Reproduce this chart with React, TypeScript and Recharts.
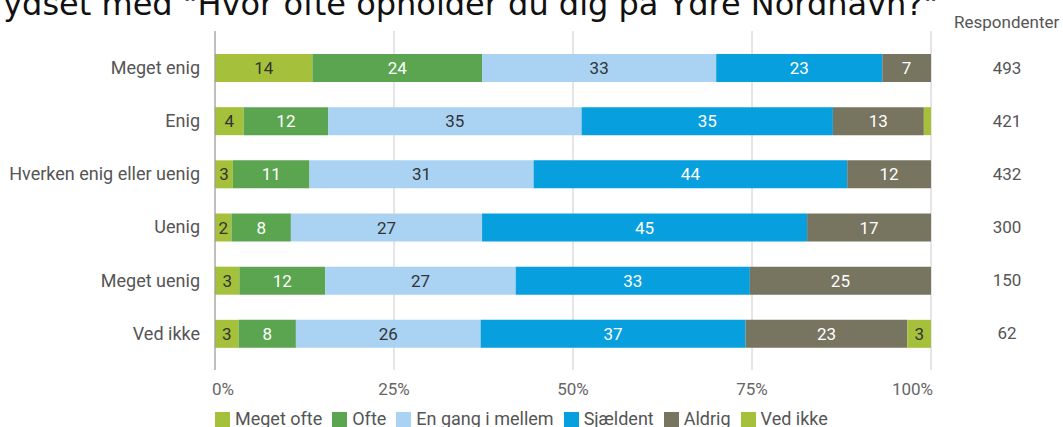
import { BarChart, Bar, XAxis, YAxis, CartesianGrid, LabelList, Legend } from 'recharts';

const categories = ['Meget enig', 'Enig', 'Hverken enig eller uenig', 'Uenig', 'Meget uenig', 'Ved ikke'];
const respondents = [493, 421, 432, 300, 150, 62];

// andel i procent pr. svarkategori
const megetOfte = [13.6, 4.0, 2.5, 2.3, 3.4, 3.3];
const ofte = [23.7, 11.8, 10.7, 8.3, 12.0, 8.0];
const enGang = [32.7, 35.4, 31.3, 26.7, 26.6, 25.8];
const saeldent = [23.2, 35.1, 43.8, 45.4, 32.7, 37.0];
const aldrig = [6.8, 12.7, 11.7, 17.3, 25.3, 22.6];
const vedIkke = [0, 1.0, 0, 0, 0, 3.3];

const xTicks = [0, 25, 50, 75, 100];

const SERIES = [
  { key: 'megetOfte', name: 'Meget ofte', color: '#a5c13b', text: '#333' },
  { key: 'ofte', name: 'Ofte', color: '#5ba551', text: '#fff' },
  { key: 'enGang', name: 'En gang i mellem', color: '#a9d2f3', text: '#333' },
  { key: 'saeldent', name: 'Sjældent', color: '#079fde', text: '#fff' },
  { key: 'aldrig', name: 'Aldrig', color: '#77745f', text: '#fff' },
  { key: 'vedIkke', name: 'Ved ikke', color: '#a5c13b', text: '#333' },
];

const data = categories.map((name, i) => ({
  name,
  n: respondents[i],
  megetOfte: megetOfte[i],
  ofte: ofte[i],
  enGang: enGang[i],
  saeldent: saeldent[i],
  aldrig: aldrig[i],
  vedIkke: vedIkke[i],
}));

const FONT = 'Roboto, sans-serif';

const XTick = (props: any) => {
  const { x, y, payload } = props;
  const v = payload.value;
  const anchor = v === 0 ? 'start' : v === 100 ? 'end' : 'middle';
  const dx = v === 0 ? -3 : v === 100 ? 2 : 0;
  return (
    <text x={x + dx} y={y} dy={25} textAnchor={anchor} fill="#666" fontSize={17} fontFamily={FONT}>
      {v}%
    </text>
  );
};

const RightTick = (props: any) => {
  const { x, y, payload } = props;
  return (
    <text x={x + 76} y={y} dy="0.355em" textAnchor="middle" fill="#555" fontSize={17} fontFamily={FONT}>
      {payload.value}
    </text>
  );
};

const LegendContent = () => (
  <div
    style={{
      display: 'flex',
      alignItems: 'center',
      height: 18,
      lineHeight: '18px',
      paddingLeft: 215,
      fontFamily: FONT,
      fontSize: 18,
      color: '#555',
      whiteSpace: 'nowrap',
    }}
  >
    {SERIES.map((s) => (
      <div key={s.key} style={{ display: 'flex', alignItems: 'center', marginRight: 10 }}>
        <span style={{ display: 'inline-block', width: 15, height: 15, background: s.color, marginRight: 5 }} />
        <span>{s.name}</span>
      </div>
    ))}
  </div>
);

export default function App() {
  return (
    <div style={{ position: 'absolute', left: 0, top: 0, width: 1063, height: 427, overflow: 'hidden', background: '#fff' }}>
      <div
        style={{
          position: 'absolute',
          left: -31,
          top: -12,
          fontFamily: '"DejaVu Sans", sans-serif',
          fontSize: 32,
          lineHeight: '32px',
          color: '#111',
          whiteSpace: 'nowrap',
        }}
      >
        Krydset med "Hvor ofte opholder du dig på Ydre Nordhavn?"
      </div>
      <div
        style={{
          position: 'absolute',
          left: 954,
          top: 12,
          fontFamily: FONT,
          fontSize: 17,
          lineHeight: '20px',
          color: '#555',
          whiteSpace: 'nowrap',
        }}
      >
        Respondenter
      </div>
      <BarChart
        width={1063}
        height={427}
        data={data}
        layout="vertical"
        margin={{ top: 31, right: 0, bottom: 0, left: 0 }}
        barCategoryGap={0}
      >
        <CartesianGrid horizontal={false} stroke="#ccc" />
        <XAxis
          type="number"
          domain={[0, 100]}
          ticks={xTicks}
          allowDataOverflow
          axisLine={false}
          tickLine={false}
          tickSize={0}
          tickMargin={0}
          height={39}
          tick={<XTick />}
        />
        <YAxis
          yAxisId="left"
          type="category"
          dataKey="name"
          width={215}
          axisLine={{ stroke: '#999' }}
          tickLine={false}
          tickSize={0}
          tickMargin={15}
          padding={{ top: 10, bottom: 10 }}
          tick={{ fill: '#555', fontSize: 18, fontFamily: FONT }}
        />
        <YAxis
          yAxisId="right"
          orientation="right"
          type="category"
          dataKey="n"
          width={132}
          axisLine={false}
          tickLine={false}
          tickSize={0}
          tickMargin={0}
          padding={{ top: 10, bottom: 10 }}
          tick={<RightTick />}
        />
        <Legend verticalAlign="bottom" content={<LegendContent />} wrapperStyle={{ left: 0, width: 1063, bottom: -1 }} />
        {SERIES.map((s) => (
          <Bar
            key={s.key}
            dataKey={s.key}
            name={s.name}
            stackId="a"
            yAxisId="left"
            fill={s.color}
            barSize={28}
            isAnimationActive={false}
          >
            <LabelList
              dataKey={s.key}
              position="center"
              fill={s.text}
              fontSize={17}
              fontFamily={FONT}
              formatter={(v: any) => (Number(v) < 1.5 ? '' : Math.round(Number(v)))}
            />
          </Bar>
        ))}
      </BarChart>
    </div>
  );
}
